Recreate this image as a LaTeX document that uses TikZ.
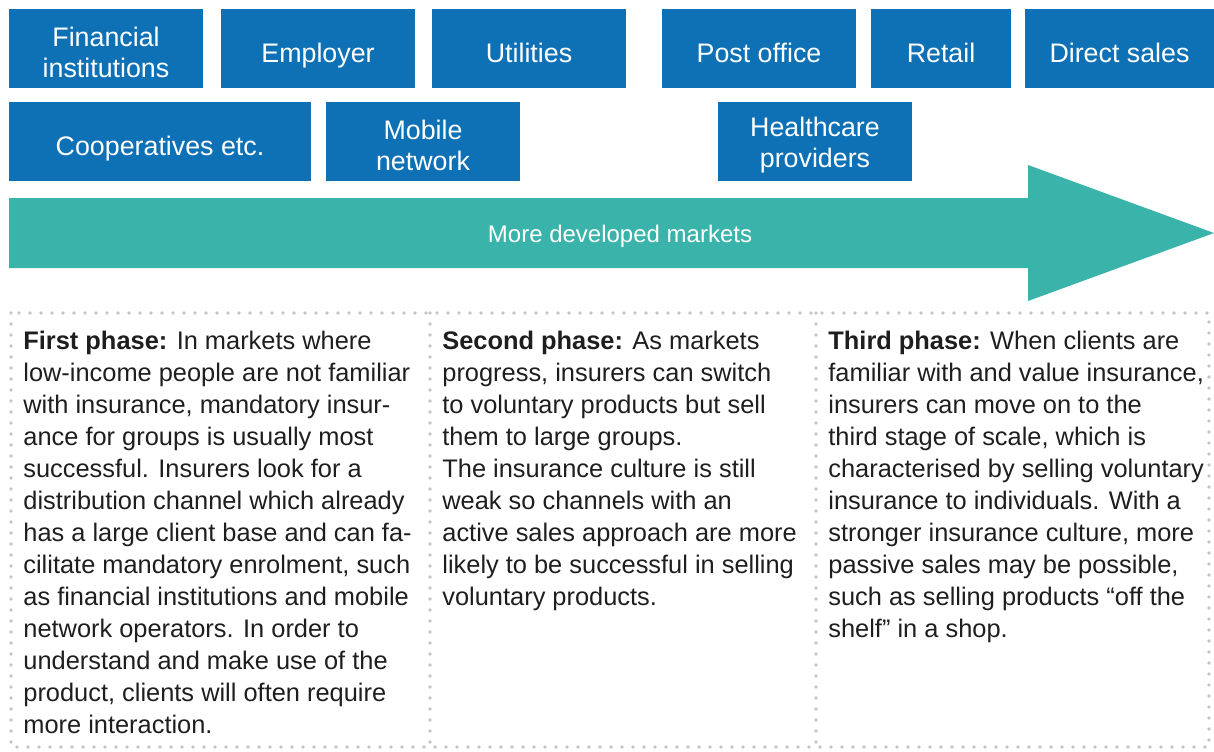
\documentclass[tikz,border=0pt]{standalone}
\usepackage{fontspec}
\setmainfont{Liberation Sans}
\usetikzlibrary{positioning}

\definecolor{chanblue}{RGB}{14,113,181}
\definecolor{marketteal}{RGB}{58,180,170}
\definecolor{dotgrey}{RGB}{196,196,196}
\definecolor{bodytext}{RGB}{30,30,30}

\begin{document}
\begin{tikzpicture}[x=0.5pt,y=-0.5pt]
\tikzstyle{chan} = [rectangle, fill=chanblue, text=white, align=center,
inner sep=0pt, minimum height=39.5pt, font=\fontsize{13.4}{15.5}\selectfont]
\tikzstyle{chantext} = [text=white, align=center, inner sep=0pt, yshift=-2pt,
font=\fontsize{13.4}{15.5}\selectfont]
\tikzstyle{phase} = [anchor=north west, inner sep=0pt, align=left, text=bodytext,
font=\fontsize{12.7}{16}\selectfont]
\tikzstyle{dots} = [draw=dotgrey, line width=1.8pt, line cap=round,
dash pattern=on 0pt off 5.5pt]

\useasboundingbox (0,0) rectangle (1214,751);

% row 1
\node [chan, minimum width=97pt] (fin) at (106,48.5) {};
\node [chan, minimum width=97pt] (empl) at (318,48.5) {};
\node [chan, minimum width=97pt] (util) at (529,48.5) {};
\node [chan, minimum width=97pt] (post) at (759,48.5) {};
\node [chan, minimum width=70pt] (retail) at (941,48.5) {};
\node [chan, minimum width=94.5pt] (direct) at (1119.5,48.5) {};
% row 2
\node [chan, minimum width=151pt] (coop) at (160,141.5) {};
\node [chan, minimum width=97pt] (mobile) at (423,141.5) {};
\node [chan, minimum width=97pt] (health) at (815,141.5) {};
% labels, set a little low in the boxes
\node [chantext] at (fin) {Financial\\institutions};
\node [chantext, yshift=-1.5pt] at (empl) {Employer};
\node [chantext] at (util) {Utilities};
\node [chantext] at (post) {Post office};
\node [chantext] at (retail) {Retail};
\node [chantext] at (direct) {Direct sales};
\node [chantext, yshift=-1.5pt] at (coop) {Cooperatives etc.};
\node [chantext] at (mobile) {Mobile\\network};
\node [chantext] at (health) {Healthcare\\providers};

% the big arrow
\fill [marketteal] (9,198) -- (1028,198) -- (1028,165) -- (1214,233)
  -- (1028,301) -- (1028,268) -- (9,268) -- cycle;
\node [text=white, font=\fontsize{12}{14}\selectfont] (market) at (620,236)
  {More developed markets};

% dotted frame
\draw [dots] (11,313) rectangle (1209,747);
\draw [dots] (430,313) -- (430,747);
\draw [dots] (816,313) -- (816,747);

\node [phase] (first) at (23,331) {\textbf{First phase:} In markets where\\
low-income people are not familiar\\
with insurance, mandatory insur-\\
ance for groups is usually most\\
successful. Insurers look for a\\
distribution channel which already\\
has a large client base and can fa-\\
cilitate mandatory enrolment, such\\
as financial institutions and mobile\\
network operators. In order to\\
understand and make use of the\\
product, clients will often require\\
more interaction.};

\node [phase] (second) at (442,331) {\textbf{Second phase:} As markets\\
progress, insurers can switch\\
to voluntary products but sell\\
them to large groups.\\
The insurance culture is still\\
weak so channels with an\\
active sales approach are more\\
likely to be successful in selling\\
voluntary products.};

\node [phase] (third) at (828,331) {\textbf{Third phase:} When clients are\\
familiar with and value insurance,\\
insurers can move on to the\\
third stage of scale, which is\\
characterised by selling voluntary\\
insurance to individuals. With a\\
stronger insurance culture, more\\
passive sales may be possible,\\
such as selling products “off the\\
shelf” in a shop.};
\end{tikzpicture}
\end{document}
